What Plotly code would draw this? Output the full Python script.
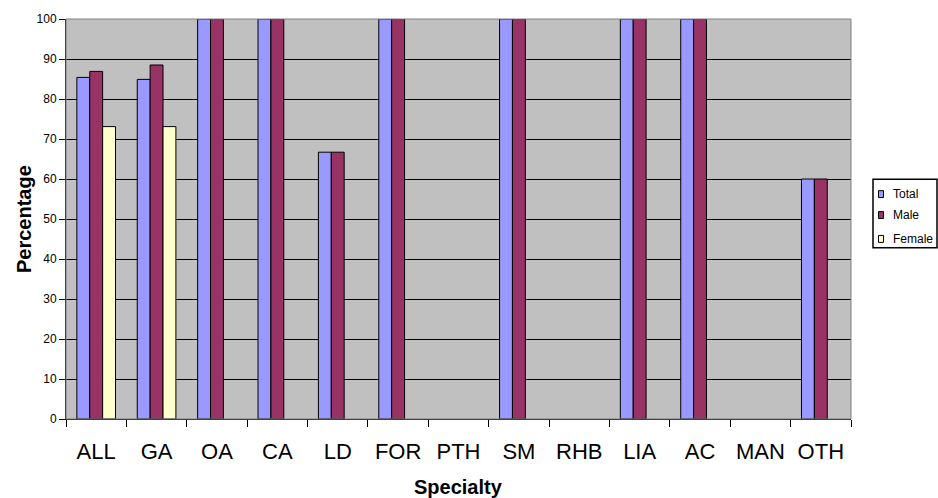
import plotly.graph_objects as go

categories = ["ALL", "GA", "OA", "CA", "LD", "FOR", "PTH", "SM", "RHB", "LIA", "AC", "MAN", "OTH"]
total = [85.4, 84.9, 100, 100, 66.7, 100, None, 100, None, 100, 100, None, 60]
male = [86.9, 88.5, 100, 100, 66.7, 100, None, 100, None, 100, 100, None, 60]
female = [73.1, 73.1, None, None, None, None, None, None, None, None, None, None, None]
series_names = ["Total", "Male", "Female"]
series_colors = ["#9999FF", "#993366", "#FFFFCC"]
y_ticks = list(range(0, 101, 10))

FONT = "Liberation Sans, Arial, sans-serif"

FW, FH = 938, 498
L, R, T, B = 66, 851, 17, 419
W, H = R - L, B - T


def px(x):
    return (x - L) / W


def py(y):
    return (B - y) / H


fig = go.Figure()
for name, vals, col in zip(series_names, [total, male, female], series_colors):
    fig.add_trace(go.Bar(
        x=categories, y=vals, name=name, showlegend=False,
        marker=dict(color=col, line=dict(color="black", width=1)),
    ))

# Plot-area border (grey)
fig.add_shape(type="rect", xref="paper", yref="paper", x0=0, y0=0, x1=1, y1=1,
              line=dict(color="#808080", width=1), fillcolor="rgba(0,0,0,0)", layer="above")

# Legend box
fig.add_shape(type="rect", xref="paper", yref="paper",
              x0=px(873), x1=px(937), y0=py(178), y1=py(247),
              line=dict(color="black", width=1.5), fillcolor="white", layer="above")
legend_y = [193, 214, 238]
for name, col, yy in zip(series_names, series_colors, legend_y):
    fig.add_shape(type="rect", xref="paper", yref="paper",
                  x0=px(878.5), x1=px(883.5), y0=py(yy - 3.5), y1=py(yy + 3.5),
                  line=dict(color="black", width=1), fillcolor=col, layer="above")
    fig.add_annotation(xref="paper", yref="paper", x=px(891), y=py(yy),
                       text=name, showarrow=False, xanchor="left", yanchor="middle",
                       font=dict(family=FONT, size=12, color="black"))

# Axis titles
fig.add_annotation(xref="paper", yref="paper", x=px(458), y=py(487),
                   text="<b>Specialty</b>", showarrow=False, xanchor="center", yanchor="middle",
                   font=dict(family=FONT, size=20, color="black"))
fig.add_annotation(xref="paper", yref="paper", x=px(24), y=py(218),
                   text="<b>Percentage</b>", showarrow=False, textangle=-90,
                   xanchor="center", yanchor="middle",
                   font=dict(family=FONT, size=20, color="black"))

fig.update_layout(
    width=FW, height=FH,
    margin=dict(l=L, r=FW - R, t=T, b=FH - B),
    paper_bgcolor="white", plot_bgcolor="#C0C0C0",
    barmode="group", bargap=0.36, bargroupgap=0,
    font=dict(family=FONT, color="black"),
)
fig.update_xaxes(
    type="category", tickson="boundaries", ticks="outside", ticklen=7,
    tickcolor="black", tickwidth=1,
    showline=True, linecolor="black", linewidth=1,
    tickfont=dict(size=22, family=FONT, color="black"),
    ticklabelstandoff=13,
    showgrid=False,
)
fig.update_yaxes(
    range=[0, 100], tickvals=y_ticks, ticks="outside", ticklen=6,
    tickcolor="black", tickwidth=1,
    showline=True, linecolor="black", linewidth=1,
    showgrid=True, gridcolor="black", gridwidth=1,
    tickfont=dict(size=12, family=FONT, color="black"),
    zeroline=False,
)

fig.write_html(
    "out.html",
    config={"displayModeBar": False},
    post_script="document.body.style.margin='0';document.body.style.overflow='hidden';",
)
